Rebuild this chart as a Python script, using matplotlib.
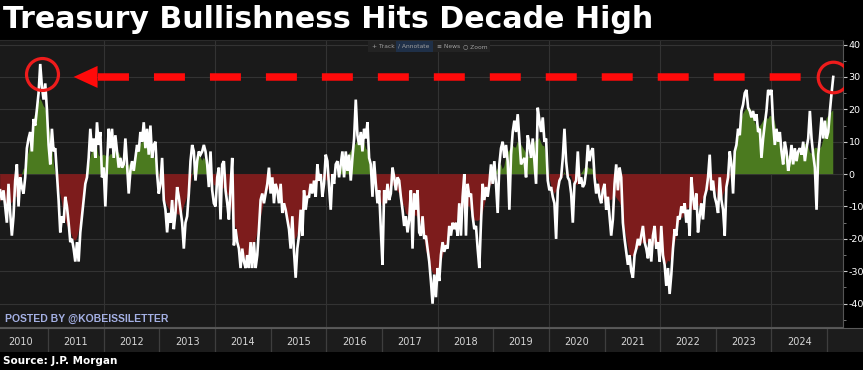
import numpy as np
import pandas as pd
import matplotlib
matplotlib.use("Agg")
import matplotlib.pyplot as plt
from matplotlib.patches import Rectangle

# J.P. Morgan treasury client survey, net bullishness (~every 11 days)
vals_2010_2013 = [-5, -8, -5, -10, -15, -3, -12, -19, -13, -2,
                  3, -10, -1, -4, -6, -1, 8, 11, 13, 7,
                  17, 15, 20, 25, 34, 27, 23, 28, 20, 9,
                  3, 14, 7, 8, 0, -8, -18, -13, -15, -7,
                  -10, -15, -21, -20, -23, -27, -21, -27, -18, -13,
                  -8, -3, -1, 5, 14, 7, 11, 5, 16, 9,
                  13, -1, 2, -10, 3, 14, 8, 14, 5, 12,
                  7, 2, 5, 2, 3, 11, 3, -6, 1, 4,
                  1, 5, 9, 7, 13, 10, 16, 8, 14, 6,
                  15, 5, 9, 10, 0, -6, -3, 5, -8, -11,
                  -18, -12, -15, -8, -17, -12, -4, -7, -11, -15,
                  -23, -15, -13, -6, 4, 9, 7, -2, 4, 7,
                  6, 7, 9, 7, 3, -4, 7, -5, -9]
vals_2013_2017 = [-10, -1, 2, -14, 3, 4, -5, -9, -14, -4,
                  5, -22, -17, -21, -23, -29, -23, -27, -29, -25,
                  -29, -21, -29, -21, -29, -25, -17, -8, -6, -9,
                  -6, -3, 2, -6, -1, -9, -3, -5, -9, -3,
                  -12, -9, -11, -14, -17, -23, -13, -24, -32, -23,
                  -19, -11, -19, -5, -11, -7, -7, -3, -6, -2,
                  -7, 3, -2, 0, -7, -3, 6, 4, -4, -11,
                  0, -3, 3, 4, -1, 3, 7, -1, 7, 1,
                  6, -2, 5, 11, 23, 12, 9, 13, 7, 14,
                  11, 16, 5, 3, -7, 4, -3, -9, -5, -17,
                  -28, -5, -9, -3, -8, -6, 2, -1, -5, -1,
                  -2, -7, -11, -16, -13, -18, -14, -5, -23, -6,
                  -11, -5, -18, -19, -13, -20]
vals_2017_2021 = [-19, -23, -27, -33, -40, -31, -38, -29, -33, -25,
                  -21, -24, -22, -23, -16, -19, -15, -17, -15, -19,
                  -9, -19, -7, 0, -19, -3, -7, -6, -13, -17,
                  -16, -23, -29, -15, -3, -8, -4, -7, -3, 3,
                  -3, 4, -3, -12, 3, 8, 10, 5, 9, 4,
                  -11, 6, 13, 16.5, 13, 18.5, 11, 3, 4, 5,
                  -1, 12, 9, 5, 11, 4, -3, 20.5, 16.5, 13,
                  17.5, 10, 11, -2, -5, -4, -7, -9, -20, -5,
                  -2, -1, 5, 14, 4, -1, -2, -6, -15, -3,
                  -2, 7, -3, -1, -4, -3, 1, 9, 4, 7,
                  8, -1, -6, -3, -7, -9, -5, -3, -11, -7,
                  -13, -19, -14, -3, 3, -5, 2, -1, -15, -20,
                  -24, -28, -25, -30, -32, -25]
vals_2021_2025 = [-23, -20, -22, -19, -16, -21, -23, -26, -20, -27,
                  -19, -16, -23, -21, -27, -16, -25, -28, -34.5, -29,
                  -37, -31, -23, -17, -19, -13, -14, -10, -12, -9,
                  -15, -11, -19, -1, -7, -11, -6, -18, -13, -9,
                  -14, -7, -5, -1, 6, -5, -2, -7, -9, -12,
                  -1, -8, -11, -19, -4, -1, 7, 3, -6, 7,
                  9, 14, 12, 19.5, 21.5, 25, 26, 20.5, 19.5, 17.5,
                  19.5, 16.5, 18.5, 13, 14, 5, 11, 15.5, 19.5, 26,
                  25, 26, 15.5, 9, 14, 10, 13, 7, 3, 10,
                  7, 1, 4, 9, 3, 8, 4, 7, 8, 6,
                  10, 4, 8, 11, 19.5, 11, 6, 2, -11, 6,
                  11, 17.5, 11, 16.5, 11, 13, 19.5, 25, 30]

year_labels = list(range(2010, 2025))
first_date = 2010.14   # decimal year of first reading
step_years = 0.03      # spacing of readings

values = np.array(vals_2010_2013 + vals_2013_2017 + vals_2017_2021 + vals_2021_2025, dtype=float)
dates = first_date + step_years * np.arange(len(values))

W, H = 863, 370
x0 = 2010.137
px_per_year = 55.65

plt.rcParams['lines.scale_dashes'] = False
plt.rcParams['axes.unicode_minus'] = False
fig = plt.figure(figsize=(W / 100, H / 100), dpi=100, facecolor='black')

# main panel
ax = fig.add_axes([0, 1 - 327 / H, 843 / W, (327 - 40) / H])
ax.set_facecolor('#1a1a1a')
ax.set_xlim(x0, x0 + 843 / px_per_year)
ax.set_ylim(-47.2, 41.4)

smooth = pd.Series(values).rolling(9, center=True, min_periods=1).mean().values
ax.fill_between(dates, 0, smooth, where=smooth >= 0, interpolate=True, color='#4b7a1f', lw=0, zorder=2)
ax.fill_between(dates, 0, smooth, where=smooth <= 0, interpolate=True, color='#7d1c1c', lw=0, zorder=2)
ax.plot(dates, values, color='white', lw=1.9, zorder=3, solid_joinstyle='miter')

ax.yaxis.tick_right()
ax.set_yticks(range(-40, 41, 10))
ax.set_yticks(range(-45, 41, 5), minor=True)
ax.set_xticks(range(2012, 2025, 2))
ax.tick_params(axis='x', length=0, labelbottom=False)
ax.tick_params(axis='y', which='major', colors='#cccccc', labelcolor='white', labelsize=6.8,
               length=3, width=0.8, pad=1)
ax.tick_params(axis='y', which='minor', colors='#888888', length=2, width=0.6)
ax.grid(True, which='major', color='#333333', lw=0.8, zorder=0)
ax.spines['left'].set_visible(False)
ax.spines['top'].set_color('#2a2a2a')
ax.spines['right'].set_color('#555555')
ax.spines['bottom'].set_color('#555555')

for t in ax.yaxis.get_major_ticks():
    if t.get_loc() == 30:
        t.label2.set_color('black')
        t.label2.set_bbox(dict(facecolor='white', edgecolor='none', pad=0.8))

# annotations: circles on the 2010 peak and the latest reading, dashed arrow between
peak_i = int(np.argmax(values))
red = '#ee1c1c'
ax.plot([dates[peak_i] + 0.03], [values[peak_i] - 3], 'o', ms=23, mfc='none', mec=red, mew=2.3, zorder=5)
ax.plot([dates[-1]], [values[-1]], 'o', ms=22, mfc='none', mec=red, mew=2.3, zorder=5)

level = values[-1]
tip = dates[peak_i] + 0.6
base = tip + 0.43
end = dates[-1] - 0.52
ax.plot([base, end], [level, level], color='#ff0a0a', lw=5.4, dashes=(22.3, 18.0),
        solid_capstyle='butt', dash_capstyle='butt', zorder=4)
ax.fill([tip, base, base], [level, level + 3.4, level - 3.4], color='#ff0a0a', lw=0, zorder=4)

# toolbar strip at the top of the panel
fig.patches.append(Rectangle((368 / W, 1 - 52 / H), 122 / W, 11 / H, transform=fig.transFigure,
                             facecolor='#232323', edgecolor='none', zorder=5))
fig.patches.append(Rectangle((396 / W, 1 - 52 / H), 37 / W, 11 / H, transform=fig.transFigure,
                             facecolor='#1f3048', edgecolor='none', zorder=5))
for xp, label in [(372, '+ Track'), (398, '/ Annotate'), (437, '≡ News'), (463, '○ Zoom')]:
    fig.text(xp / W, 1 - 46.5 / H, label, color='#a0a0a0', fontsize=4.3, va='center', zorder=6)

# year band
band = fig.add_axes([0, 1 - 352 / H, 1, (352 - 328) / H])
band.set_facecolor('#1c1c1c')
band.set_xlim(x0, x0 + W / px_per_year)
band.set_ylim(0, 1)
band.set_xticks([])
band.set_yticks([])
for side in ['left', 'right', 'bottom']:
    band.spines[side].set_visible(False)
band.spines['top'].set_color('#5a5a5a')
for yr in year_labels + [2025]:
    band.axvline(yr, color='#3e3e3e', lw=0.9)
for yr in year_labels:
    band.text(yr + 0.5, 0.42, str(yr), ha='center', va='center', color='#d6d6d6', fontsize=7)

# texts
fig.text(3 / W, 1 - 20 / H, 'Treasury Bullishness Hits Decade High', color='white',
         fontsize=21.6, fontweight='bold', va='center')
fig.text(5 / W, 1 - 319 / H, 'POSTED BY @KOBEISSILETTER', color='#a4b0e4', fontsize=7.5,
         fontweight='bold', family='Liberation Sans', va='center', zorder=6)
fig.text(3 / W, 1 - 361 / H, 'Source: J.P. Morgan', color='white', fontsize=7.5,
         fontweight='bold', va='center')

fig.savefig('out.png', dpi=100, facecolor='black')
